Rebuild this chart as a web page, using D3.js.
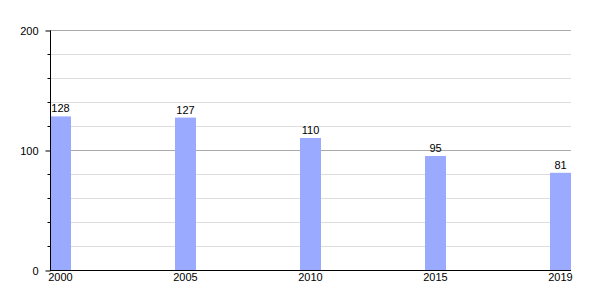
<!DOCTYPE html>
<html>
<head>
<meta charset="utf-8">
<script src="https://cdn.jsdelivr.net/npm/d3@7"></script>
<style>
    body { margin: 0; background: #fff; }
    text { font-family: "Liberation Sans", Arial, sans-serif; font-size: 11px; fill: #000; }
</style>
</head>
<body>
<svg id="chart" width="600" height="300"></svg>
<script>
// data
let years  = ['2000', '2005', '2010', '2015', '2019'];
let values = [128, 127, 110, 95, 81];
let yMajor = [0, 100, 200];
let yMinor = [20, 40, 60, 80, 120, 140, 160, 180];

let plotLeft = 50, plotRight = 571, plotTop = 30, plotBottom = 270;
let barW = 21;

let svg = d3.select('#chart');

let x = d3.scalePoint()
    .domain(years)
    .range([plotLeft, plotRight - barW]);

let y = d3.scaleLinear()
    .domain([0, 200])
    .range([plotBottom, plotTop]);

// grid lines
svg.append('g')
    .selectAll('line.minor')
    .data(yMinor)
    .enter()
    .append('line')
    .attr('class', 'minor')
    .attr('x1', plotLeft)
    .attr('x2', plotRight)
    .attr('y1', (d) => { return y(d) + 0.5; })
    .attr('y2', (d) => { return y(d) + 0.5; })
    .attr('stroke', '#dddddd')
    .attr('stroke-width', 1);

svg.append('g')
    .selectAll('line.major')
    .data(yMajor.filter((d) => { return d > 0; }))
    .enter()
    .append('line')
    .attr('class', 'major')
    .attr('x1', plotLeft)
    .attr('x2', plotRight)
    .attr('y1', (d) => { return y(d) + 0.5; })
    .attr('y2', (d) => { return y(d) + 0.5; })
    .attr('stroke', '#aaaaaa')
    .attr('stroke-width', 1);

// bars
svg.append('g')
    .selectAll('rect')
    .data(values)
    .enter()
    .append('rect')
    .attr('x', (d, i) => { return x(years[i]); })
    .attr('y', (d) => { return y(d); })
    .attr('width', barW)
    .attr('height', (d) => { return plotBottom - y(d); })
    .attr('fill', '#99aaff');

// value labels
svg.append('g')
    .selectAll('text')
    .data(values)
    .enter()
    .append('text')
    .attr('x', (d, i) => { return x(years[i]) + barW / 2; })
    .attr('y', (d) => { return y(d) - 4; })
    .attr('text-anchor', 'middle')
    .text((d) => { return d; });

// y axis with minor ticks
let yAxis = svg.append('g')
    .attr('transform', 'translate(' + (plotLeft + 0.5) + ',0.5)')
    .call(d3.axisLeft(y).tickValues(yMajor).tickSize(5).tickPadding(7));
yAxis.select('.domain').attr('stroke', '#000').attr('d', 'M0,' + plotTop + 'V' + plotBottom);
yAxis.selectAll('text').style('font-size', '11px').style('font-family', null);

yAxis.selectAll('line.minorTick')
    .data(yMinor)
    .enter()
    .append('line')
    .attr('class', 'minorTick')
    .attr('x1', -3)
    .attr('x2', 0)
    .attr('y1', (d) => { return y(d); })
    .attr('y2', (d) => { return y(d); })
    .attr('stroke', '#000');

// x axis
svg.append('line')
    .attr('x1', plotLeft)
    .attr('x2', plotRight)
    .attr('y1', plotBottom + 0.5)
    .attr('y2', plotBottom + 0.5)
    .attr('stroke', '#000');

svg.append('g')
    .selectAll('text')
    .data(years)
    .enter()
    .append('text')
    .attr('x', (d) => { return x(d) + barW / 2; })
    .attr('y', plotBottom + 11)
    .attr('text-anchor', 'middle')
    .text((d) => { return d; });
</script>
</body>
</html>
